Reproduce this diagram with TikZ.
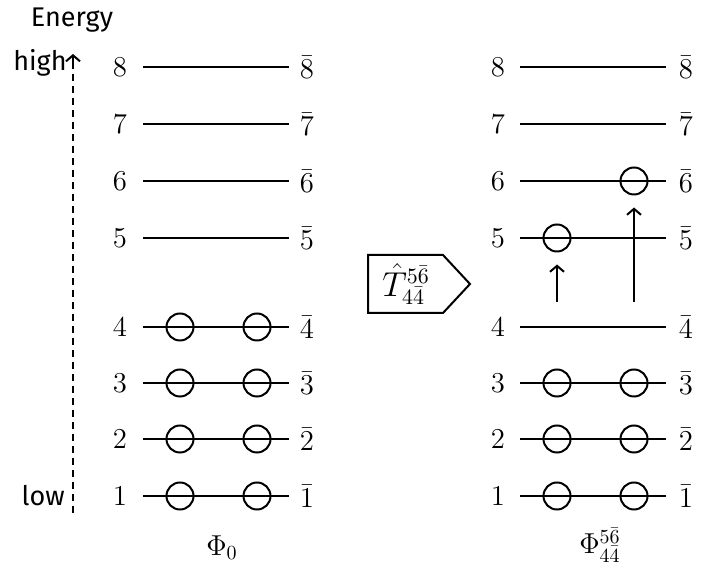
\documentclass[tikz,border=0pt]{standalone}
\usepackage{fontspec}
\setsansfont{Fira Sans}
\usetikzlibrary{arrows.meta,shapes.symbols}
\begin{document}
\begin{tikzpicture}[x=0.5pt,y=-0.5pt,
  every node/.style={font=\fontsize{14}{17}\selectfont},
  level/.style={line width=1pt},
  orb/.style={circle,draw,line width=1pt,minimum size=13.5pt,inner sep=0pt},
  lbl/.style={inner sep=0pt},
  exc/.style={line width=1pt,-{Straight Barb[length=3pt,width=7pt]},shorten >=6pt},
  sanslbl/.style={font=\fontsize{13.5}{16}\selectfont\sffamily,inner sep=0pt}]
\useasboundingbox (0,0) rectangle (701,565);
% levels
\foreach \n/\y in {1/496,2/439,3/383,4/327,5/238,6/181,7/124,8/67}{
  \coordinate (La\n) at (143,\y);
  \coordinate (Lb\n) at (289,\y);
  \coordinate (Ra\n) at (520,\y);
  \coordinate (Rb\n) at (666,\y);
  \draw[level] (La\n) -- (Lb\n);
  \draw[level] (Ra\n) -- (Rb\n);
  \node[lbl] (Ln\n) at (120,\y) {$\n$};
  \node[lbl] (Lm\n) at (307,\y) {$\bar{\n}$};
  \node[lbl] (Rn\n) at (498,\y) {$\n$};
  \node[lbl] (Rm\n) at (686,\y) {$\bar{\n}$};
}
% left occupied
\foreach \n/\y in {1/496,2/439,3/383,4/327}{
  \node[orb] (Lc\n) at (180,\y) {};
  \node[orb] (Ld\n) at (257,\y) {};
}
% right occupied
\foreach \n/\y in {1/496,2/439,3/383}{
  \node[orb] (Rc\n) at (557,\y) {};
  \node[orb] (Rd\n) at (634,\y) {};
}
\node[orb] (Rc5) at (557,238) {};
\node[orb] (Rd6) at (634,181) {};
\coordinate (sa) at (557,302);
\coordinate (sb) at (634,302);
\draw[exc] (sa) -- (Rc5.south);
\draw[exc] (sb) -- (Rd6.south);
% operator
\node[lbl,font=\fontsize{16}{19}\selectfont] (op) at (406,284) {$\hat{T}^{5\bar{6}}_{4\bar{4}}$};
\draw[line width=1pt] (368,255) -- (443,255) -- (470,284) -- (443,313) -- (368,313) -- cycle;
% energy axis
\coordinate (ebot) at (73,513);
\coordinate (etop) at (73,54);
\draw[line width=1pt,dash pattern=on 3.5pt off 2.5pt] (ebot) -- (73,64);
\draw[line width=1pt,-{Straight Barb[length=3pt,width=7pt]}] (73,65) -- (etop);
\node[sanslbl] (en) at (72,20) {Energy};
\node[sanslbl,anchor=east] (hi) at (67,63) {high};
\node[sanslbl,anchor=east] (lo) at (65,496) {low};
% titles
\node[lbl] (p0) at (222,548) {$\Phi_0$};
\node[lbl] (p1) at (600,545) {$\Phi^{5\bar{6}}_{4\bar{4}}$};
\end{tikzpicture}
\end{document}
